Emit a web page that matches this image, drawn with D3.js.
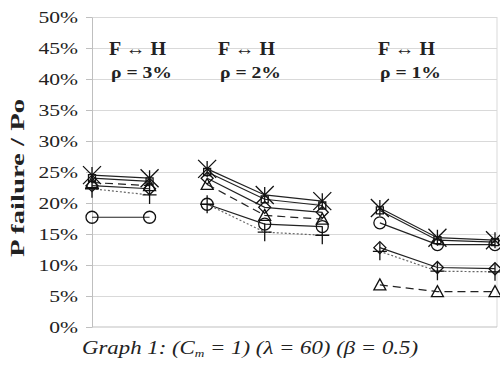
<!DOCTYPE html>
<html>
<head>
<meta charset="utf-8">
<script src="https://cdn.jsdelivr.net/npm/d3@7"></script>
<style>
  body { margin: 0; background: #fff; }
  svg { display: block; }
  text { font-family: "Liberation Serif", "Times New Roman", Times, "DejaVu Serif", serif; fill: #222; }
</style>
</head>
<body>
<div class="chart"></div>
<script>
// categories: 8 points, split into three rho groups
const categories = ["a1", "a2", "b1", "b2", "b3", "c1", "c2", "c3"];
const groupCategories = [[0, 1], [2, 3, 4], [5, 6, 7]];
const groupTitles = ["F \u2194 H", "F \u2194 H", "F \u2194 H"];
const groupRhos = ["\u03c1 = 3%", "\u03c1 = 2%", "\u03c1 = 1%"];

// series values (%)
const starVals     = [24.5, 24.0, 25.5, 21.3, 20.3, 19.2, 14.4, 14.0];
const squareVals   = [24.0, 23.5, 25.0, 20.6, 19.6, 18.8, 14.0, 13.7];
const diamondVals  = [22.8, 22.3, 24.0, 19.3, 18.5, 12.8, 9.6, 9.4];
const triangleVals = [23.3, 22.8, 23.0, 18.0, 17.4, 6.8, 5.7, 5.7];
const plusVals     = [22.3, 21.3, 19.8, 15.3, 14.8, 12.2, 9.0, 8.9];
const circleVals   = [17.7, 17.7, 19.8, 16.6, 16.2, 16.8, 13.3, 13.3];

const yTicks = [0, 5, 10, 15, 20, 25, 30, 35, 40, 45, 50];

const W = 500, H = 365;
const plotLeft = 92, plotRight = 497, plotTop = 17, plotBottom = 327;
const serif = "'Liberation Serif', 'Times New Roman', Times, 'DejaVu Serif', serif";

const svg = d3.select(".chart").append("svg").attr("width", W).attr("height", H);

const x = d3.scalePoint().domain(d3.range(categories.length)).range([plotLeft, 495]);
const y = d3.scaleLinear().domain([0, 50]).range([plotBottom, plotTop]);

// gridlines
svg.append("g")
    .attr("transform", "translate(" + plotLeft + ",0)")
    .call(d3.axisLeft(y).tickValues(yTicks.slice(1)).tickSize(-(plotRight - plotLeft)).tickFormat(""))
    .call(g => g.select(".domain").remove())
    .selectAll("line").attr("stroke", "#d9d9d9");

// right border line
svg.append("line")
    .attr("x1", plotRight).attr("x2", plotRight).attr("y1", plotTop).attr("y2", plotBottom)
    .attr("stroke", "#d9d9d9");

// y axis
const yAxis = svg.append("g")
    .attr("transform", "translate(" + plotLeft + ",0)")
    .call(d3.axisLeft(y).tickValues(yTicks).tickSize(6).tickSizeOuter(0).tickFormat(d => d + "%"))
    .attr("font-family", serif);
yAxis.select(".domain").attr("stroke", "#bfbfbf");
yAxis.selectAll(".tick line").attr("stroke", "#bfbfbf");
yAxis.selectAll(".tick text")
    .attr("x", -14)
    .style("font-family", serif)
    .style("font-size", "17px")
    .attr("fill", "#333")
    .each(function () {
        const len = this.getComputedTextLength();
        d3.select(this).attr("textLength", len * 1.27).attr("lengthAdjust", "spacingAndGlyphs");
    });

// x axis
const xAxis = svg.append("g")
    .attr("transform", "translate(0," + plotBottom + ")")
    .call(d3.axisBottom(x).tickValues([]).tickSizeOuter(0));
xAxis.select(".domain").attr("stroke", "#bfbfbf").attr("d", "M" + plotLeft + ",0H" + plotRight);

// y title
svg.append("text")
    .attr("transform", "translate(24,178) rotate(-90)")
    .attr("text-anchor", "middle")
    .style("font-family", serif)
    .style("font-size", "19px")
    .style("font-weight", "bold")
    .attr("textLength", 158).attr("lengthAdjust", "spacingAndGlyphs")
    .text("P failure / Po");

// group annotations
const titleX = [109, 218, 378];
groupTitles.forEach((t, i) => {
    svg.append("text").attr("x", titleX[i]).attr("y", 55)
        .style("font-family", serif)
        .style("font-size", "19px").style("font-weight", "bold")
        .attr("textLength", 57).attr("lengthAdjust", "spacingAndGlyphs")
        .text(t);
    svg.append("text").attr("x", titleX[i] + 2).attr("y", 78)
        .style("font-family", serif)
        .style("font-size", "16px").style("font-weight", "bold")
        .attr("textLength", 61).attr("lengthAdjust", "spacingAndGlyphs")
        .text(groupRhos[i]);
});

// marker shapes
function markerPath(type) {
    switch (type) {
        case "star": return "M-9,-9L9,9M-9,9L9,-9M0,-8V8";
        case "square": return "M-3.5,-3.5H3.5V3.5H-3.5Z";
        case "diamond": return "M0,-6L6,0L0,6L-6,0Z";
        case "triangle": return "M0,-6L6,5H-6Z";
        case "plus": return "M-7,0H7M0,-9V9";
        case "circle": return "M6,0A6,6 0 1,1 -6,0A6,6 0 1,1 6,0Z";
    }
}

const series = [
    { values: circleVals, marker: "circle", dash: null, color: "#222" },
    { values: plusVals, marker: "plus", dash: "2,2", color: "#666" },
    { values: triangleVals, marker: "triangle", dash: "8,5", color: "#222" },
    { values: diamondVals, marker: "diamond", dash: null, color: "#222" },
    { values: squareVals, marker: "square", dash: null, color: "#222" },
    { values: starVals, marker: "star", dash: null, color: "#222" }
];

const line = d3.line().x(d => x(d.i)).y(d => y(d.v));

series.forEach(s => {
    const g = svg.append("g");
    groupCategories.forEach(idx => {
        const pts = idx.map(i => ({ i: i, v: s.values[i] }));
        g.append("path")
            .datum(pts)
            .attr("d", line)
            .attr("fill", "none")
            .attr("stroke", s.color)
            .attr("stroke-width", 1.2)
            .attr("stroke-dasharray", s.dash);
    });
    g.selectAll("path.mk")
        .data(s.values.map((v, i) => ({ i: i, v: v })))
        .enter().append("path")
        .attr("class", "mk")
        .attr("transform", d => "translate(" + x(d.i) + "," + y(d.v) + ")")
        .attr("d", markerPath(s.marker))
        .attr("fill", "none")
        .attr("stroke", "#111")
        .attr("stroke-width", 1.3);
});

// caption
const cap = svg.append("text")
    .attr("x", 82).attr("y", 354)
    .style("font-family", serif)
    .style("font-size", "19px")
    .style("font-style", "italic")
    .attr("fill", "#333")
    .attr("textLength", 336).attr("lengthAdjust", "spacingAndGlyphs");
cap.append("tspan").text("Graph 1: (C");
cap.append("tspan").attr("dy", 3).style("font-size", "11px").text("m");
cap.append("tspan").attr("dy", -3).text(" = 1) (\u03bb = 60) (\u03b2 = 0.5)");
</script>
</body>
</html>
